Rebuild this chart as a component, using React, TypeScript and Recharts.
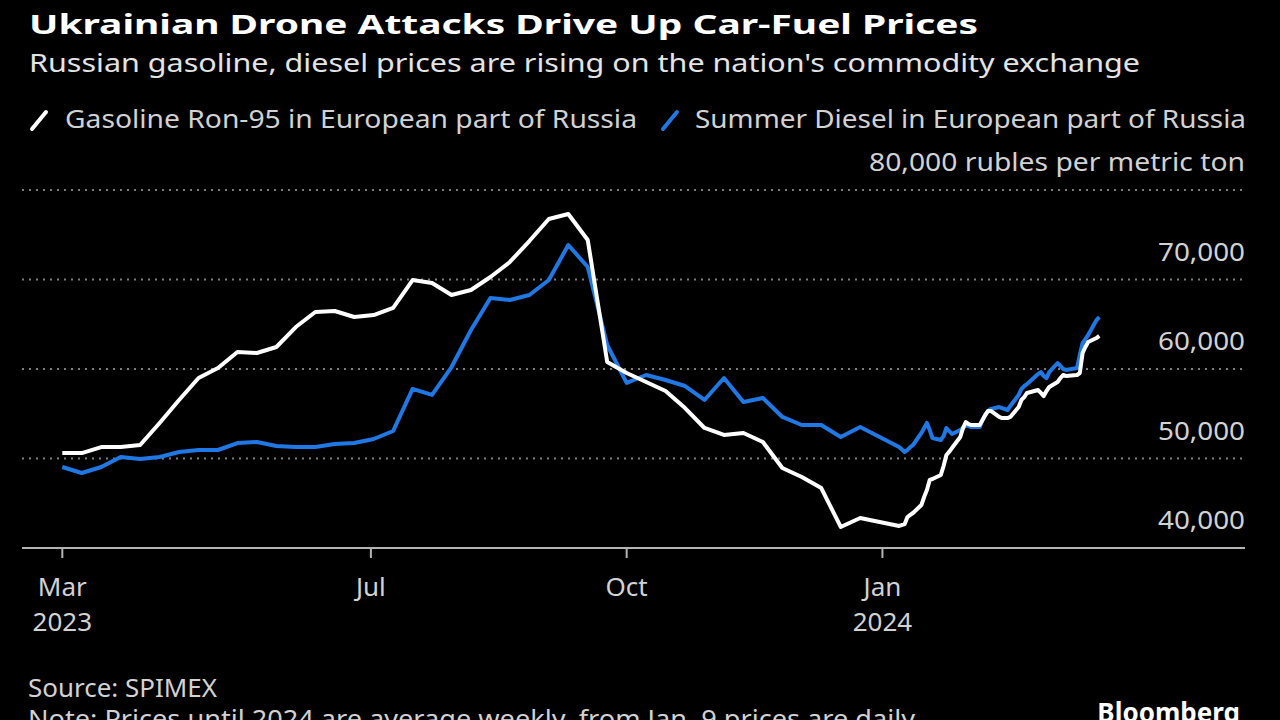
import React from 'react';
import { LineChart, Line, XAxis, YAxis, CartesianGrid } from 'recharts';

// Weekly averages (Mar 2023 - early Jan 2024), then daily from Jan 9, 2024
const DATES: string[] = [
  '2023-03-12', '2023-03-19', '2023-03-26', '2023-04-02', '2023-04-09', '2023-04-16', '2023-04-23', '2023-04-30',
  '2023-05-07', '2023-05-14', '2023-05-21', '2023-05-28', '2023-06-04', '2023-06-11', '2023-06-18', '2023-06-25',
  '2023-07-02', '2023-07-09', '2023-07-16', '2023-07-23', '2023-07-30', '2023-08-06', '2023-08-13', '2023-08-20',
  '2023-08-27', '2023-09-03', '2023-09-10', '2023-09-17', '2023-09-24', '2023-10-01', '2023-10-08', '2023-10-15',
  '2023-10-22', '2023-10-29', '2023-11-05', '2023-11-12', '2023-11-19', '2023-11-26', '2023-12-03', '2023-12-10',
  '2023-12-17', '2023-12-24', '2023-12-31', '2024-01-07',
  '2024-01-09', '2024-01-10', '2024-01-11', '2024-01-12', '2024-01-15', '2024-01-16', '2024-01-17', '2024-01-18',
  '2024-01-19', '2024-01-22', '2024-01-23', '2024-01-24', '2024-01-25', '2024-01-26', '2024-01-29', '2024-01-30',
  '2024-01-31', '2024-02-01', '2024-02-02', '2024-02-05', '2024-02-06', '2024-02-07', '2024-02-08', '2024-02-09',
  '2024-02-12', '2024-02-13', '2024-02-14', '2024-02-15', '2024-02-16', '2024-02-19', '2024-02-20', '2024-02-21',
  '2024-02-22', '2024-02-26', '2024-02-27', '2024-02-28', '2024-02-29', '2024-03-01', '2024-03-04', '2024-03-05',
  '2024-03-06', '2024-03-07', '2024-03-11', '2024-03-12', '2024-03-13', '2024-03-14', '2024-03-15', '2024-03-18',
  '2024-03-19',
];

const GASOLINE: number[] = [
  50610, 50610, 51280, 51280, 51510, 53970, 56540, 58990, 60110, 61900, 61790, 62460, 64690, 66370, 66480, 65810,
  66030, 66820, 69940, 69610, 68270, 68830, 70280, 71960, 74300, 76760, 77320, 74410, 60780, 59550, 58550, 57540,
  55640, 53410, 52630, 52850, 51840, 48940, 47930, 46700, 42350, 43350, 42900, 42460,
  42680, 43460, 43690, 43910, 44800, 45700, 46480, 47600, 47710, 48160, 49160, 50390, 50730, 51170, 52400, 53410,
  54080, 53850, 53740, 53740, 54300, 54860, 55310, 55310, 54640, 54520, 54520, 54520, 54640, 55750, 56540, 56870,
  57320, 57650, 57320, 56980, 57540, 57990, 58550, 58990, 59330, 59220, 59330, 59550, 61790, 62460, 63020, 63460,
  63690,
];

const DIESEL: number[] = [
  49050, 48380, 49050, 50170, 49940, 50170, 50730, 50950, 50950, 51730, 51840, 51400, 51280, 51280, 51620, 51730,
  52180, 53070, 57770, 57100, 60220, 64360, 67930, 67710, 68270, 69940, 73850, 71400, 62680, 58440, 59330, 58770,
  58100, 56540, 58990, 56310, 56760, 54640, 53740, 53740, 52400, 53520, 52400, 51280,
  50730, 50950, 51280, 51510, 52850, 53410, 53970, 53180, 52290, 52070, 52510, 53410, 53070, 52740, 53180, 53410,
  53740, 53630, 53520, 53520, 54300, 54860, 55310, 55530, 55750, 55640, 55530, 55420, 55870, 57100, 57770, 58100,
  58320, 59440, 59660, 59220, 58990, 59660, 60670, 60340, 60000, 59890, 60110, 61560, 62900, 63350, 63800, 65470,
  65810,
];

const X_TICK_DATES: string[] = ['2023-03-12', '2023-07-01', '2023-10-01', '2024-01-01'];
const X_TICK_LABELS: string[][] = [['Mar', '2023'], ['Jul'], ['Oct'], ['Jan', '2024']];
const X_DOMAIN_DATES: string[] = ['2023-02-25T12:00:00Z', '2024-05-10T10:00:00Z'];
const Y_TICKS: number[] = [40000, 50000, 60000, 70000, 80000];
const Y_UNIT = 'rubles per metric ton';

const TITLE = 'Ukrainian Drone Attacks Drive Up Car-Fuel Prices';
const SUBTITLE = "Russian gasoline, diesel prices are rising on the nation's commodity exchange";
const LEGEND_GAS = 'Gasoline Ron-95 in European part of Russia';
const LEGEND_DIESEL = 'Summer Diesel in European part of Russia';
const SOURCE = 'Source: SPIMEX';
const NOTE = 'Note: Prices until 2024 are average weekly, from Jan. 9 prices are daily';

const FONT = "'Noto Sans', 'Open Sans', 'DejaVu Sans', sans-serif";
const BLUE = '#1f78e4';
const LABEL = '#d2d2d2';

const toTs = (s: string) => Date.parse(s.length > 10 ? s : s + 'T00:00:00Z');

const data = DATES.map((d, i) => ({ t: toTs(d), gasoline: GASOLINE[i], diesel: DIESEL[i] }));
const xTicks = X_TICK_DATES.map(toTs);
const xDomain = X_DOMAIN_DATES.map(toTs);

const fmt = (v: number) => v.toLocaleString('en-US');

const XTick = (props: any) => {
  const { x, y, payload } = props;
  const idx = xTicks.indexOf(payload.value);
  const lines = idx >= 0 ? X_TICK_LABELS[idx] : [];
  return (
    <g>
      {lines.map((l, i) => (
        <text key={i} x={x} y={y + 36 + i * 35} textAnchor="middle" fill={LABEL} fontSize={26} fontFamily={FONT}>
          {l}
        </text>
      ))}
    </g>
  );
};

const YTick = (props: any) => {
  const { x, y, payload } = props;
  const isTop = payload.value === Y_TICKS[Y_TICKS.length - 1];
  const label = isTop ? `${fmt(payload.value)} ${Y_UNIT}` : fmt(payload.value);
  return (
    <text
      x={x}
      y={y - 19}
      textAnchor="end"
      fill={LABEL}
      fontSize={26}
      fontFamily={FONT}
      textLength={isTop ? 376 : 87}
      lengthAdjust="spacingAndGlyphs"
    >
      {label}
    </text>
  );
};

export default function App() {
  return (
    <div style={{ position: 'absolute', left: 0, top: 0, width: 1280, height: 720, background: '#000', overflow: 'hidden' }}>
      <LineChart width={1280} height={720} data={data} margin={{ top: 190, right: 0, bottom: 112, left: 22 }}>
        <CartesianGrid vertical={false} stroke="#7c7c7c" strokeDasharray="2 5" strokeWidth={2} />
        <XAxis
          dataKey="t"
          type="number"
          domain={xDomain}
          allowDataOverflow
          ticks={xTicks}
          interval={0}
          height={60}
          tickSize={10}
          axisLine={{ stroke: '#b4b4b4', strokeWidth: 2 }}
          tickLine={{ stroke: '#b4b4b4', strokeWidth: 2 }}
          tick={<XTick />}
        />
        <YAxis
          orientation="right"
          width={35}
          domain={[40000, 80000]}
          ticks={Y_TICKS}
          interval={0}
          axisLine={false}
          tickLine={false}
          tickSize={0}
          tickMargin={0}
          tick={<YTick />}
        />
        <Line type="linear" dataKey="diesel" stroke={BLUE} strokeWidth={4} dot={false} isAnimationActive={false} strokeLinejoin="round" />
        <Line type="linear" dataKey="gasoline" stroke="#ffffff" strokeWidth={4} dot={false} isAnimationActive={false} strokeLinejoin="round" />
      </LineChart>
      <svg width={1280} height={720} style={{ position: 'absolute', left: 0, top: 0, pointerEvents: 'none' }}>
        <text x={29} y={34} fill="#ffffff" fontSize={27} fontWeight="bold" fontFamily={FONT} textLength={949} lengthAdjust="spacingAndGlyphs">
          {TITLE}
        </text>
        <text x={29} y={72} fill="#e4e4e4" fontSize={25} fontFamily={FONT} textLength={1111} lengthAdjust="spacingAndGlyphs">
          {SUBTITLE}
        </text>
        <line x1={32} y1={129} x2={46} y2={112} stroke="#ffffff" strokeWidth={4} strokeLinecap="round" />
        <text x={65} y={128} fill={LABEL} fontSize={25} fontFamily={FONT} textLength={572} lengthAdjust="spacingAndGlyphs">
          {LEGEND_GAS}
        </text>
        <line x1={663} y1={129} x2={677} y2={112} stroke={BLUE} strokeWidth={4} strokeLinecap="round" />
        <text x={695} y={128} fill={LABEL} fontSize={25} fontFamily={FONT} textLength={551} lengthAdjust="spacingAndGlyphs">
          {LEGEND_DIESEL}
        </text>
        <text x={28} y={697} fill={LABEL} fontSize={25} fontFamily={FONT} textLength={189} lengthAdjust="spacingAndGlyphs">
          {SOURCE}
        </text>
        <text x={28} y={728} fill={LABEL} fontSize={25} fontFamily={FONT} textLength={887} lengthAdjust="spacingAndGlyphs">
          {NOTE}
        </text>
        <text x={1240} y={722} textAnchor="end" fill="#ffffff" fontSize={26} fontWeight="bold" fontFamily={FONT}>
          Bloomberg
        </text>
      </svg>
    </div>
  );
}
